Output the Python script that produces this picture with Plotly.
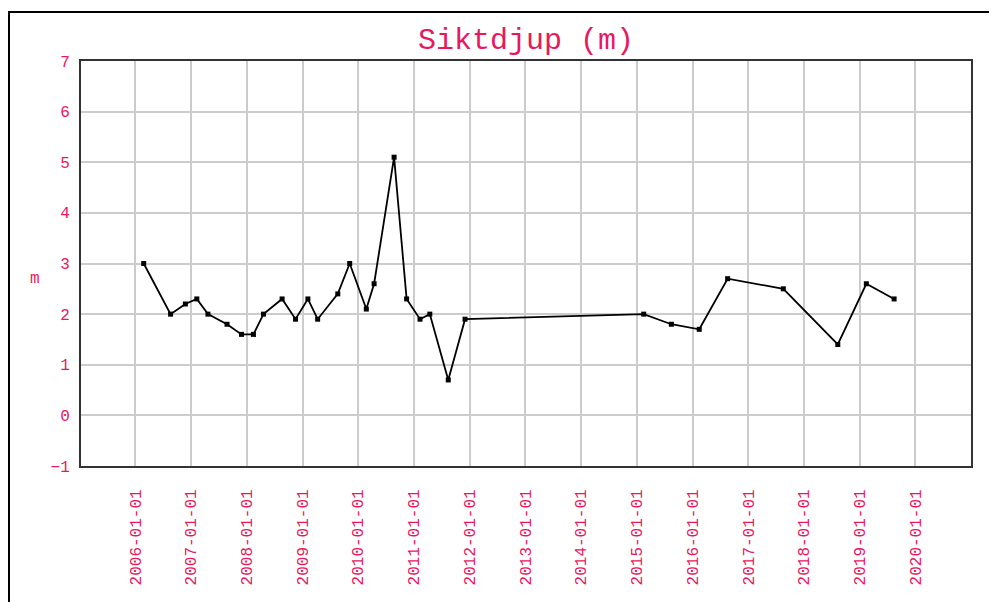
import plotly.graph_objects as go

dates = ["2006-02-25", "2006-08-20", "2006-11-25", "2007-02-08", "2007-04-22",
         "2007-08-25", "2007-11-28", "2008-02-14", "2008-04-20", "2008-08-20",
         "2008-11-16", "2009-02-05", "2009-04-10", "2009-08-20", "2009-11-06",
         "2010-02-23", "2010-04-15", "2010-08-24", "2010-11-14", "2011-02-10",
         "2011-04-15", "2011-08-14", "2011-12-02", "2015-02-15", "2015-08-15",
         "2016-02-14", "2016-08-18", "2017-08-18", "2018-08-10", "2019-02-13",
         "2019-08-14"]
depth = [3.0, 2.0, 2.2, 2.3, 2.0,
         1.8, 1.6, 1.6, 2.0, 2.3,
         1.9, 2.3, 1.9, 2.4, 3.0,
         2.1, 2.6, 5.1, 2.3, 1.9,
         2.0, 0.7, 1.9, 2.0, 1.8,
         1.7, 2.7, 2.5, 1.4, 2.6,
         2.3]

PINK = "#e8185e"
FONT = "Liberation Mono"

fig = go.Figure()
fig.add_trace(go.Scatter(
    x=dates, y=depth, mode="lines+markers",
    line=dict(color="black", width=1.8),
    marker=dict(symbol="square", size=5, color="black"),
    showlegend=False,
))

fig.update_layout(
    width=997, height=602,
    margin=dict(l=73, r=34, t=53, b=144),
    paper_bgcolor="white", plot_bgcolor="white",
    title=dict(text="Siktdjup (m)", x=0.5, xref="paper", xanchor="center",
               y=1 - 30 / 602, yref="container", yanchor="middle",
               font=dict(family=FONT, size=30, color=PINK)),
    xaxis=dict(
        type="date", range=["2005-01-10", "2020-12-30"],
        tick0="2006-01-01", dtick="M12", tickformat="%Y-%m-%d",
        tickangle=-90, tickfont=dict(family=FONT, size=16, color=PINK),
        showgrid=True, gridcolor="#cccccc", gridwidth=1.5,
        showline=True, linecolor="#333333", linewidth=2, mirror=True,
        ticks="", ticklabelstandoff=15, zeroline=False,
    ),
    yaxis=dict(
        range=[-1, 7], dtick=1, tick0=0,
        tickfont=dict(family=FONT, size=16, color=PINK),
        showgrid=True, gridcolor="#cccccc", gridwidth=1.5,
        showline=True, linecolor="#333333", linewidth=2, mirror=True,
        ticks="", ticklabelstandoff=6, zeroline=False,
    ),
    annotations=[dict(text="m", xref="paper", yref="paper",
                      x=(35 - 81) / 890, y=(466 - 279) / 405,
                      xanchor="center", yanchor="middle", showarrow=False,
                      font=dict(family=FONT, size=16, color=PINK))],
    shapes=[dict(type="rect", xref="paper", yref="paper",
                 x0=(9 - 81) / 890, x1=1.2, y0=-0.6, y1=(466 - 12) / 405,
                 line=dict(color="black", width=2), layer="below")],
)

fig.write_html("out.html")
